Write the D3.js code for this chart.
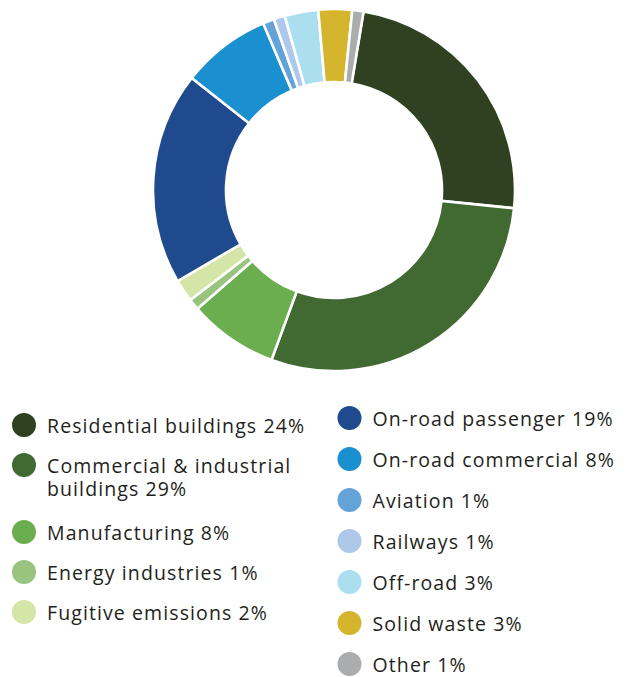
<!DOCTYPE html>
<html>
<head>
<meta charset="utf-8">
<script src="https://cdn.jsdelivr.net/npm/d3@7"></script>
<style>
  html, body { margin: 0; padding: 0; background: #ffffff; }
  svg { display: block; }
  .legend text { font-family: "Open Sans", Lato, sans-serif; font-size: 19.5px; letter-spacing: 1.1px; fill: #231f20; font-variant-ligatures: none; }
</style>
</head>
<body>
<svg id="chart" width="640" height="677"></svg>
<script>
// Emissions share by sector (percent)
const categories = [
  "Residential buildings", "Commercial & industrial buildings", "Manufacturing",
  "Energy industries", "Fugitive emissions", "On-road passenger", "On-road commercial",
  "Aviation", "Railways", "Off-road", "Solid waste", "Other"
];
const values = [24, 29, 8, 1, 2, 19, 8, 1, 1, 3, 3, 1];
const colors = [
  "#2f4120", "#416a33", "#6bae50", "#98c47f", "#d3e5a7", "#1f4a8e",
  "#1b90d0", "#64a3d8", "#adc8ea", "#abdeef", "#d5b52e", "#abacae"
];
// Legend text, split where the label wraps
const legendLines = [
  ["Residential buildings 24%"],
  ["Commercial & industrial", "buildings 29%"],
  ["Manufacturing 8%"],
  ["Energy industries 1%"],
  ["Fugitive emissions 2%"],
  ["On-road passenger 19%"],
  ["On-road commercial 8%"],
  ["Aviation 1%"],
  ["Railways 1%"],
  ["Off-road 3%"],
  ["Solid waste 3%"],
  ["Other 1%"]
];

const svg = d3.select("#chart");
const cx = 334, cy = 190, outerR = 181, innerR = 108;
const startDeg = 9.4;

const data = categories.map((c, i) => ({ name: c, value: values[i], color: colors[i], lines: legendLines[i] }));

const pie = d3.pie()
  .value(d => d.value)
  .sort(null)
  .startAngle(startDeg * Math.PI / 180)
  .endAngle((startDeg + 360) * Math.PI / 180);

const arc = d3.arc().innerRadius(innerR).outerRadius(outerR);

svg.append("g")
  .attr("transform", `translate(${cx},${cy})`)
  .selectAll("path")
  .data(pie(data))
  .join("path")
  .attr("d", arc)
  .attr("fill", d => d.data.color)
  .attr("stroke", "#ffffff")
  .attr("stroke-width", 2.6)
  .attr("stroke-linejoin", "miter");

// Legend: first five items in the left column, the rest on the right
const leftItems = data.slice(0, 5);
const rightItems = data.slice(5);
const step = 40, wrapExtra = 27, lineGap = 23, dotR = 12;

function drawColumn(items, x, y0, stepSize) {
  const g = svg.append("g").attr("class", "legend");
  let y = y0;
  items.forEach(d => {
    const row = g.append("g").attr("transform", `translate(${x},${y})`);
    row.append("circle").attr("cx", 0).attr("cy", 0).attr("r", dotR).attr("fill", d.color);
    const t = row.append("text").attr("x", 23).attr("y", 8);
    d.lines.forEach((ln, k) => {
      t.append("tspan").attr("x", 23).attr("dy", k === 0 ? 0 : lineGap).text(ln);
    });
    y += stepSize + (d.lines.length - 1) * wrapExtra;
  });
}

drawColumn(leftItems, 24, 425, step);
drawColumn(rightItems, 349.5, 418, 41);
</script>
</body>
</html>
